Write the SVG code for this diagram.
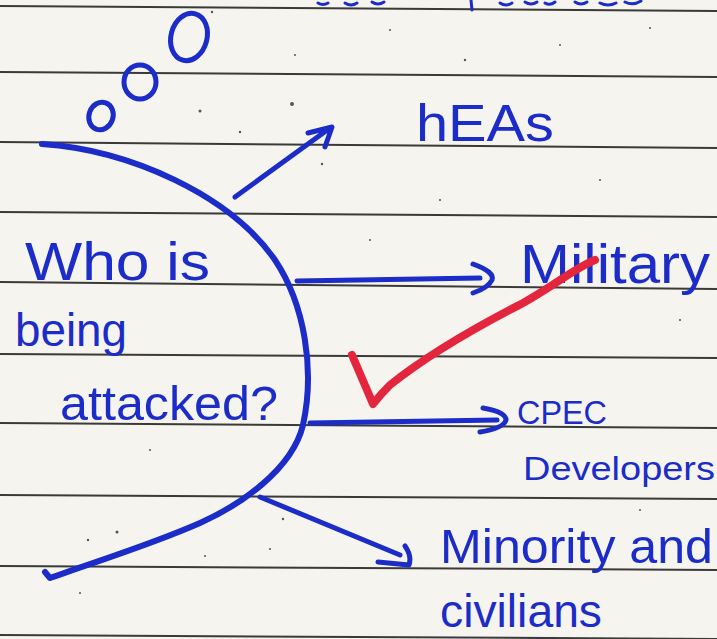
<svg xmlns="http://www.w3.org/2000/svg" width="717" height="639" viewBox="0 0 717 639">
<style>
.ink{fill:none;stroke:#1b2cc8;stroke-width:5;stroke-linecap:round;stroke-linejoin:round}
.rule{stroke:#3a3a38;stroke-width:2}
.t{font-family:"Liberation Sans",Arial,sans-serif;fill:#1b2cc8}
.speck{fill:#555}
</style>
<rect width="717" height="639" fill="#f6f4ef"/>
<g id="rules">
<line class="rule" x1="0" y1="6" x2="717" y2="11"/>
<line class="rule" x1="0" y1="72" x2="717" y2="77"/>
<line class="rule" x1="0" y1="142" x2="717" y2="148"/>
<line class="rule" x1="0" y1="212" x2="717" y2="217"/>
<line class="rule" x1="0" y1="282" x2="717" y2="289"/>
<line class="rule" x1="0" y1="354" x2="717" y2="358"/>
<line class="rule" x1="0" y1="423" x2="717" y2="428"/>
<line class="rule" x1="0" y1="495" x2="717" y2="499"/>
<line class="rule" x1="0" y1="566" x2="717" y2="570"/>
<line class="rule" x1="0" y1="635" x2="717" y2="639"/>
</g>
<g id="specks">
<circle class="speck" cx="212" cy="12" r="1.2"/><circle class="speck" cx="295" cy="55" r="1"/>
<circle class="speck" cx="390" cy="30" r="1"/><circle class="speck" cx="465" cy="60" r="1.2"/>
<circle class="speck" cx="560" cy="45" r="1"/><circle class="speck" cx="650" cy="28" r="1"/>
<circle class="speck" cx="200" cy="111" r="1.5"/><circle class="speck" cx="240" cy="132" r="1.2"/>
<circle class="speck" cx="292" cy="104" r="2"/><circle class="speck" cx="322" cy="164" r="1.2"/>
<circle class="speck" cx="370" cy="240" r="1"/><circle class="speck" cx="440" cy="200" r="1"/>
<circle class="speck" cx="600" cy="180" r="1"/><circle class="speck" cx="680" cy="320" r="1"/>
<circle class="speck" cx="88" cy="540" r="1.2"/><circle class="speck" cx="117" cy="532" r="1.5"/>
<circle class="speck" cx="283" cy="519" r="1.2"/><circle class="speck" cx="205" cy="556" r="1"/>
<circle class="speck" cx="270" cy="549" r="1"/><circle class="speck" cx="80" cy="593" r="1"/>
<circle class="speck" cx="150" cy="450" r="1"/><circle class="speck" cx="640" cy="510" r="1"/>
</g>
<g id="top-fragment">
<path class="ink" style="stroke-width:3" d="M318,3 q5,3 10,0 M345,3 q6,4 12,0 M372,2 q6,4 12,0 M471,0 L472,10 M500,3 q6,4 12,0 M525,2 q6,4 12,0 M545,3 q5,3 10,-1 M575,2 q6,4 12,0 M600,3 q8,4 16,0 M625,2 q8,4 16,-1"/>
</g>
<g id="thought-bubbles">
<ellipse class="ink" cx="189" cy="37" rx="18" ry="24" transform="rotate(15 189 37)"/>
<ellipse class="ink" cx="140" cy="82" rx="16" ry="17"/>
<ellipse class="ink" cx="101" cy="116" rx="12" ry="14" transform="rotate(20 101 116)"/>
</g>
<g id="question">
<path class="ink" style="stroke-width:6" d="M42,144 C130,150 230,195 275,260 C305,305 315,370 303,425 C292,470 240,505 200,523 C150,545 100,560 50,578 L45,572"/>
<text class="t" x="25" y="280" font-size="54" textLength="185" lengthAdjust="spacingAndGlyphs">Who is</text>
<text class="t" x="15" y="346" font-size="46" textLength="112" lengthAdjust="spacingAndGlyphs">being</text>
<text class="t" x="60" y="420" font-size="48" textLength="218" lengthAdjust="spacingAndGlyphs">attacked?</text>
</g>
<g id="connectors">
<path class="ink" d="M235,197 L330,128 M308,133 L332,127 L325,147"/>
<path class="ink" d="M297,281 L480,278 M473,264 Q495,272 492,280 Q488,288 473,293"/>
<path class="ink" d="M310,423 L497,420 M483,408 Q506,412 506,420 Q504,428 480,432"/>
<path class="ink" d="M260,497 L400,555 M405,546 Q412,556 409,565 L378,562"/>
</g>
<g id="leas">
<text class="t" x="416" y="141" font-size="52" textLength="138" lengthAdjust="spacingAndGlyphs">hEAs</text>
</g>
<g id="military">
<text class="t" x="520" y="283" font-size="56" textLength="190" lengthAdjust="spacingAndGlyphs">Military</text>
</g>
<g id="cpec">
<text class="t" x="517" y="424" font-size="34" textLength="90" lengthAdjust="spacingAndGlyphs">CPEC</text>
<text class="t" x="523" y="480" font-size="34" textLength="192" lengthAdjust="spacingAndGlyphs">Developers</text>
</g>
<g id="minority">
<text class="t" x="440" y="563" font-size="48" textLength="273" lengthAdjust="spacingAndGlyphs">Minority and</text>
<text class="t" x="440" y="627" font-size="46" textLength="162" lengthAdjust="spacingAndGlyphs">civilians</text>
</g>
<g id="check">
<path d="M352,355 L373,404 Q380,395 390,385 C440,345 500,315 523,303 C555,285 575,268 595,260" fill="none" stroke="#e3263d" stroke-width="8" stroke-linecap="round" stroke-linejoin="round"/>
</g>
</svg>
